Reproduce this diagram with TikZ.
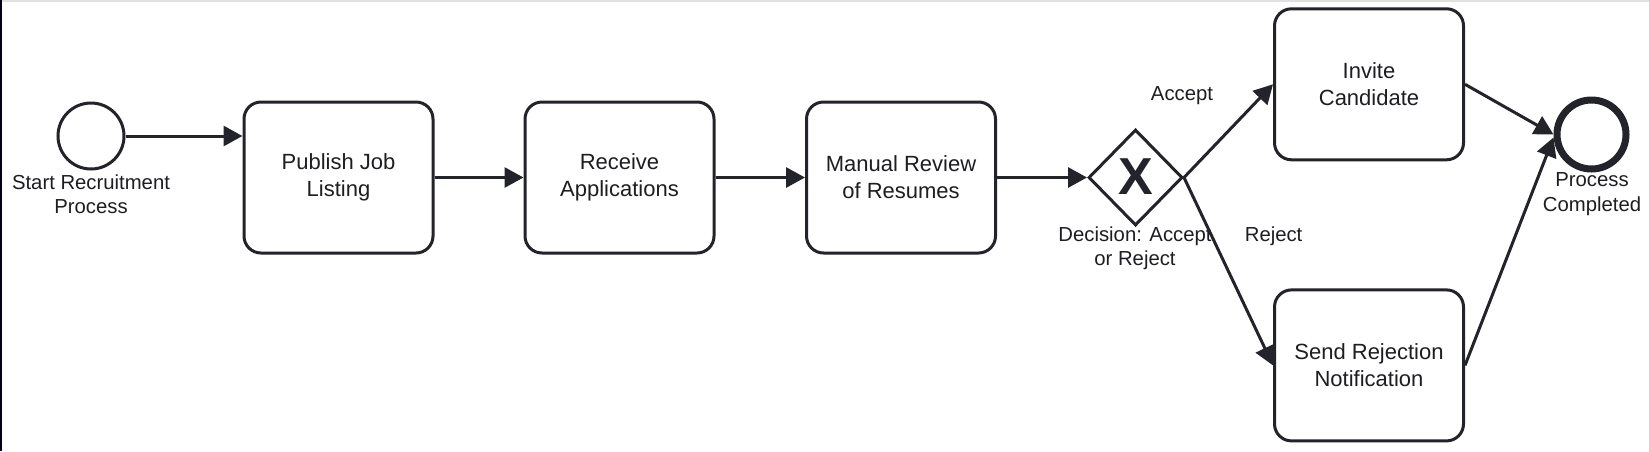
\documentclass[tikz,border=0pt]{standalone}
\usepackage{fontspec}
\setmainfont{Liberation Sans}
\usetikzlibrary{arrows.meta,shapes.geometric}
\definecolor{ink}{HTML}{222429}
\definecolor{txt}{HTML}{1E1E22}
\tikzset{
  task/.style={draw=ink, line width=3pt, rounded corners=17pt, minimum width=189pt, minimum height=151pt,
    align=center, text=txt, font=\fontsize{22}{26.8}\selectfont, inner sep=0pt},
  lbl/.style={align=center, text=txt, font=\fontsize{20.3}{24.4}\selectfont, inner sep=0pt},
  flow/.style={draw=ink, line width=3pt, -{Triangle[length=19pt,width=20pt]}},
  startev/.style={circle, draw=ink, line width=3pt, minimum size=66pt, inner sep=0pt},
  endev/.style={circle, draw=ink, line width=7pt, minimum size=69pt, inner sep=0pt},
  gate/.style={diamond, draw=ink, line width=3pt, minimum width=94pt, minimum height=96pt, inner sep=0pt}
}
\begin{document}
\begin{tikzpicture}[x=1pt,y=-1pt]
\useasboundingbox (0,0) rectangle (1649,451);
\fill[white] (0,0) rectangle (1649,451);
\draw[line width=1.5pt, draw=black!12] (0,0.75) -- (1649,0.75);
\draw[line width=1.6pt, draw=black!90!blue] (0.8,0) -- (0.8,451);

\node[startev] (start) at (91,136) {};
\node[lbl] (startlbl) at (91,194.5) {Start Recruitment\\Process};

\node[task] (publish) at (338.5,177.5) {Publish Job\\Listing};
\node[task] (receive) at (619.5,177.5) {Receive\\Applications};
\node[task] (review) at (901,177.5) {Manual Review\\of Resumes};

\node[gate] (gw) at (1135.5,177.5) {};
\node[text=ink, inner sep=0pt, font=\fontsize{52}{52}\selectfont\bfseries] (gwx) at (1135.5,177) {X};
\node[lbl] (gwlbl) at (1135,248.5) {Decision: Accept\\or Reject};

\node[task] (invite) at (1369,84.3) {Invite\\Candidate};
\node[task] (send) at (1369,365.4) {Send Rejection\\Notification};

\node[endev] (end) at (1591.5,134.5) {};
\node[lbl] (endlbl) at (1592,194) {Process\\Completed};

\node[lbl] (acc) at (1182,95.7) {Accept};
\node[lbl] (rej) at (1273.6,236.6) {Reject};

\draw[flow] (start.east) -- (start.east -| publish.west);
\draw[flow] (publish) -- (receive);
\draw[flow] (receive) -- (review);
\draw[flow] (review) -- (gw);
\draw[flow] (gw.east) -- (invite.west);
\draw[flow] (gw.east) -- (send.west);
\draw[flow] (invite.east) -- (end.west);
\draw[flow] (send.east) -- ([yshift=-3pt]end.west);
\end{tikzpicture}
\end{document}
